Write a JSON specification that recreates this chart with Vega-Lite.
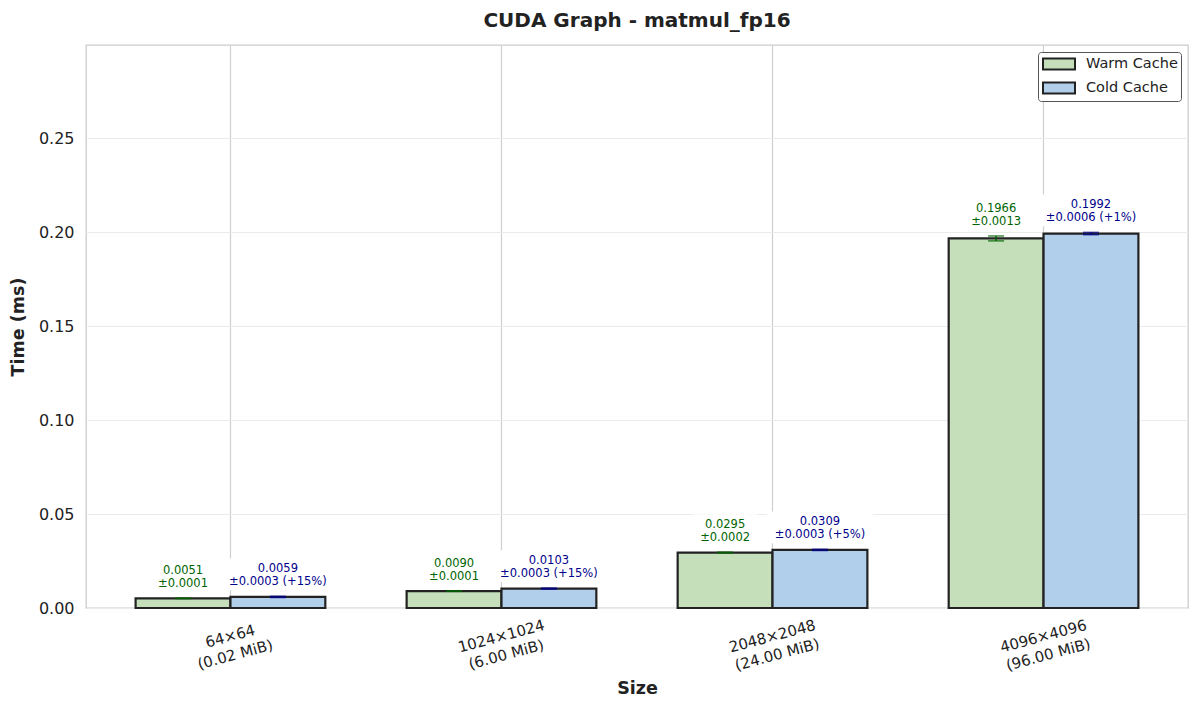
{
  "$schema": "https://vega.github.io/schema/vega-lite/v6.json",
  "description": "CUDA Graph - matmul_fp16, warm vs cold cache",
  "autosize": {"type": "none"},
  "padding": {"left": 86, "top": 45, "right": 12, "bottom": 103},
  "width": 1102,
  "height": 563,
  "background": "white",
  "title": {"text": "CUDA Graph - matmul_fp16", "fontSize": 20, "fontWeight": "bold", "color": "#222222", "offset": 14},
  "data": {
    "values": [
      {"size": "64×64\n(0.02 MiB)", "series": "Warm Cache", "value": 0.0051, "err": 0.0001, "label": "0.0051\n±0.0001"},
      {"size": "64×64\n(0.02 MiB)", "series": "Cold Cache", "value": 0.0059, "err": 0.0003, "label": "0.0059\n±0.0003 (+15%)"},
      {"size": "1024×1024\n(6.00 MiB)", "series": "Warm Cache", "value": 0.0090, "err": 0.0001, "label": "0.0090\n±0.0001"},
      {"size": "1024×1024\n(6.00 MiB)", "series": "Cold Cache", "value": 0.0103, "err": 0.0003, "label": "0.0103\n±0.0003 (+15%)"},
      {"size": "2048×2048\n(24.00 MiB)", "series": "Warm Cache", "value": 0.0295, "err": 0.0002, "label": "0.0295\n±0.0002"},
      {"size": "2048×2048\n(24.00 MiB)", "series": "Cold Cache", "value": 0.0309, "err": 0.0003, "label": "0.0309\n±0.0003 (+5%)"},
      {"size": "4096×4096\n(96.00 MiB)", "series": "Warm Cache", "value": 0.1966, "err": 0.0013, "label": "0.1966\n±0.0013"},
      {"size": "4096×4096\n(96.00 MiB)", "series": "Cold Cache", "value": 0.1992, "err": 0.0006, "label": "0.1992\n±0.0006 (+1%)"}
    ]
  },
  "transform": [
    {"calculate": "datum.value - datum.err", "as": "lo"},
    {"calculate": "datum.value + datum.err", "as": "hi"}
  ],
  "encoding": {
    "x": {
      "field": "size", "type": "nominal", "sort": null,
      "scale": {"paddingInner": 0.3, "paddingOuter": 0.183},
      "axis": {
        "title": "Size", "labelAngle": -15, "labelAlign": "center", "labelBaseline": "top",
        "labelExpr": "split(datum.label, '\\n')", "labelPadding": 21, "labelLineHeight": 19, "labelFontSize": 15, "labelOffset": -2,
        "grid": true, "gridColor": "#cfcfcf", "gridWidth": 1.2, "bandPosition": 0.5,
        "ticks": false, "domain": false, "titlePadding": 6
      }
    },
    "xOffset": {"field": "series", "type": "nominal", "scale": {"domain": ["Warm Cache", "Cold Cache"], "paddingInner": 0, "paddingOuter": 0}}
  },
  "layer": [
    {
      "mark": {"type": "bar", "stroke": "#222222", "strokeWidth": 2.2, "opacity": 1},
      "encoding": {
        "y": {
          "field": "value", "type": "quantitative",
          "scale": {"domain": [0, 0.2995], "nice": false},
          "axis": {"title": "Time (ms)", "values": [0, 0.05, 0.1, 0.15, 0.2, 0.25], "format": ".2f", "gridColor": "#ebebeb", "ticks": false, "domain": false, "labelPadding": 12, "labelFontSize": 16, "titlePadding": 11}
        },
        "color": {
          "field": "series", "type": "nominal",
          "scale": {"domain": ["Warm Cache", "Cold Cache"], "range": ["#c5dfbb", "#b1cfeb"]},
          "legend": {
            "title": null, "orient": "top-right", "offset": 7,
            "symbolType": "M-2,-0.69H2V0.69H-2Z", "symbolSize": 256, "symbolOffset": 9, "symbolStrokeColor": "#222222", "symbolStrokeWidth": 2, "symbolOpacity": 1,
            "labelFontSize": 14.5, "labelColor": "#222222", "labelOffset": 18, "rowPadding": 4, "labelExpr": "datum.label + '\u00a0\u00a0'",
            "fillColor": "white", "strokeColor": "#555555", "cornerRadius": 3, "padding": 3
          }
        }
      }
    },
    {
      "mark": {"type": "rule", "strokeWidth": 1.5},
      "encoding": {
        "y": {"field": "lo", "type": "quantitative"},
        "y2": {"field": "hi"},
        "color": {"condition": {"test": "datum.series === 'Warm Cache'", "value": "#006400"}, "value": "#00008b"}
      }
    },
    {
      "mark": {"type": "tick", "size": 16, "thickness": 1.6},
      "encoding": {
        "y": {"field": "lo", "type": "quantitative"},
        "color": {"condition": {"test": "datum.series === 'Warm Cache'", "value": "#006400"}, "value": "#00008b"}
      }
    },
    {
      "mark": {"type": "tick", "size": 16, "thickness": 1.6},
      "encoding": {
        "y": {"field": "hi", "type": "quantitative"},
        "color": {"condition": {"test": "datum.series === 'Warm Cache'", "value": "#006400"}, "value": "#00008b"}
      }
    },
    {
      "transform": [{"filter": "datum.series === 'Warm Cache'"}],
      "mark": {"type": "point", "shape": "M-1,-0.5H1V0.5H-1Z", "filled": true, "color": "white", "opacity": 1, "size": 4096, "yOffset": -22},
      "encoding": {"y": {"field": "hi", "type": "quantitative"}}
    },
    {
      "transform": [{"filter": "datum.series === 'Cold Cache'"}],
      "mark": {"type": "point", "shape": "M-1,-0.3H1V0.3H-1Z", "filled": true, "color": "white", "opacity": 1, "size": 11236, "yOffset": -22},
      "encoding": {"y": {"field": "hi", "type": "quantitative"}}
    },
    {
      "mark": {"type": "text", "baseline": "bottom", "align": "center", "fontSize": 11.5, "lineHeight": 13, "lineBreak": "\n", "dy": -22},
      "encoding": {
        "y": {"field": "hi", "type": "quantitative"},
        "text": {"field": "label"},
        "color": {"condition": {"test": "datum.series === 'Warm Cache'", "value": "#006400"}, "value": "#00008b"}
      }
    }
  ],
  "config": {
    "font": "DejaVu Sans",
    "view": {"stroke": "#cccccc", "strokeWidth": 1.3},
    "axis": {"labelFontSize": 15, "labelColor": "#222222", "titleFontSize": 17.5, "titleFontWeight": "bold", "titleColor": "#222222"}
  }
}
